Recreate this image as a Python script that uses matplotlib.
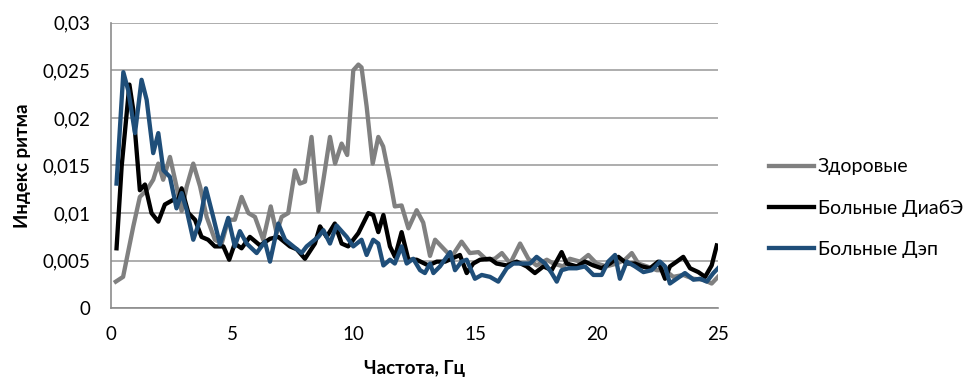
import matplotlib
matplotlib.use("Agg")
import matplotlib.pyplot as plt

plt.rcParams['font.family'] = ['Lato', 'Open Sans', 'DejaVu Sans']

# частота, Гц / индекс ритма
healthy_x = [0.2, 0.5, 0.92, 1.19, 1.47, 1.74, 1.95, 2.15, 2.43, 2.7,
             2.91, 3.12, 3.39, 3.67, 3.94, 4.28, 4.56, 4.83, 5.1, 5.38,
             5.66, 5.93, 6.27, 6.58, 6.82, 7.03, 7.3, 7.58, 7.78, 7.99,
             8.26, 8.54, 8.75, 9.02, 9.23, 9.5, 9.73, 9.98, 10.19, 10.32,
             10.53, 10.78, 11.01, 11.21, 11.49, 11.69, 11.97, 12.25, 12.59, 12.86,
             13.14, 13.35, 13.76, 14.03, 14.44, 14.78, 15.13, 15.47, 15.81, 16.1,
             16.44, 16.85, 17.19, 17.53, 17.95, 18.22, 18.63, 18.9, 19.32, 19.66,
             20.0, 20.41, 20.83, 21.17, 21.45, 21.72, 22.07, 22.48, 22.82, 23.16,
             23.57, 23.99, 24.4, 24.74, 25.0]
healthy_y = [0.0028, 0.0033, 0.0086, 0.0117, 0.0124, 0.0135, 0.0152, 0.0135, 0.0159, 0.0128,
             0.0102, 0.0128, 0.0152, 0.0128, 0.0096, 0.0072, 0.0068, 0.0093, 0.0093, 0.0117,
             0.0100, 0.0096, 0.0072, 0.0107, 0.0079, 0.0096, 0.0100, 0.0145, 0.0131, 0.0133,
             0.0180, 0.0102, 0.0135, 0.0180, 0.0152, 0.0173, 0.0161, 0.0250, 0.0256, 0.0253,
             0.0212, 0.0152, 0.0180, 0.0170, 0.0135, 0.0107, 0.0108, 0.0084, 0.0103, 0.0090,
             0.0055, 0.0072, 0.0061, 0.0054, 0.0070, 0.0058, 0.0059, 0.0051, 0.0052, 0.0058,
             0.0047, 0.0068, 0.0052, 0.0045, 0.0051, 0.0047, 0.0044, 0.0052, 0.0049, 0.0056,
             0.0047, 0.0044, 0.0047, 0.0051, 0.0058, 0.0047, 0.0044, 0.0040, 0.0040, 0.0033,
             0.0035, 0.0031, 0.0030, 0.0026, 0.0033]

diab_x = [0.23, 0.44, 0.76, 0.92, 1.19, 1.4, 1.67, 1.95, 2.22, 2.57,
          2.77, 2.91, 3.19, 3.46, 3.73, 4.0, 4.28, 4.63, 4.87, 5.1,
          5.38, 5.72, 6.14, 6.55, 6.89, 7.37, 7.65, 7.99, 8.4, 8.61,
          8.88, 9.22, 9.5, 9.77, 10.19, 10.6, 10.8, 11.01, 11.22, 11.49,
          11.7, 11.97, 12.25, 12.59, 13.07, 13.42, 13.76, 14.03, 14.37, 14.65,
          14.92, 15.2, 15.61, 15.88, 16.3, 16.71, 17.12, 17.46, 17.81, 18.15,
          18.56, 18.77, 19.18, 19.52, 19.87, 20.21, 20.55, 20.9, 21.24, 21.58,
          21.86, 22.2, 22.54, 22.82, 23.02, 23.3, 23.57, 23.85, 24.19, 24.47,
          24.74, 24.95]
diab_y = [0.0063, 0.0149, 0.0235, 0.0208, 0.0124, 0.0130, 0.0100, 0.0091, 0.0109, 0.0114,
          0.0114, 0.0126, 0.0100, 0.0093, 0.0075, 0.0072, 0.0065, 0.0065, 0.0051, 0.0068,
          0.0063, 0.0075, 0.0066, 0.0073, 0.0075, 0.0065, 0.0062, 0.0052, 0.0068, 0.0086,
          0.0075, 0.0089, 0.0068, 0.0065, 0.0079, 0.0100, 0.0098, 0.0080, 0.0098, 0.0065,
          0.0054, 0.0080, 0.0051, 0.0051, 0.0045, 0.0049, 0.0049, 0.0052, 0.0056, 0.0037,
          0.0047, 0.0051, 0.0052, 0.0047, 0.0045, 0.0049, 0.0044, 0.0037, 0.0044, 0.0040,
          0.0059, 0.0047, 0.0044, 0.0049, 0.0045, 0.0042, 0.0047, 0.0054, 0.0047, 0.0047,
          0.0044, 0.0042, 0.0049, 0.0031, 0.0044, 0.0049, 0.0054, 0.0042, 0.0038, 0.0033,
          0.0045, 0.0066]

dep_x = [0.23, 0.51, 0.71, 0.99, 1.26, 1.47, 1.74, 1.95, 2.16, 2.43,
         2.7, 2.91, 3.12, 3.39, 3.67, 3.91, 4.21, 4.49, 4.83, 5.1,
         5.31, 5.59, 6.0, 6.34, 6.55, 6.89, 7.17, 7.51, 7.85, 8.06,
         8.54, 8.75, 9.02, 9.29, 9.71, 9.98, 10.32, 10.53, 10.8, 11.01,
         11.22, 11.49, 11.69, 11.97, 12.18, 12.45, 12.73, 12.93, 13.14, 13.28,
         13.55, 13.97, 14.17, 14.44, 14.65, 14.99, 15.27, 15.61, 15.95, 16.3,
         16.57, 16.92, 17.26, 17.53, 17.88, 18.15, 18.36, 18.56, 18.84, 19.18,
         19.52, 19.87, 20.21, 20.48, 20.76, 20.96, 21.24, 21.58, 21.93, 22.27,
         22.61, 22.82, 23.02, 23.3, 23.64, 23.99, 24.26, 24.54, 24.81, 25.0]
dep_y = [0.0131, 0.0248, 0.0229, 0.0184, 0.0240, 0.0219, 0.0163, 0.0184, 0.0145, 0.0138,
         0.0105, 0.0121, 0.0103, 0.0072, 0.0093, 0.0126, 0.0096, 0.0067, 0.0095, 0.0065,
         0.0081, 0.0068, 0.0058, 0.0070, 0.0049, 0.0089, 0.0072, 0.0065, 0.0058, 0.0065,
         0.0075, 0.0082, 0.0068, 0.0087, 0.0075, 0.0065, 0.0072, 0.0056, 0.0072, 0.0068,
         0.0045, 0.0051, 0.0047, 0.0065, 0.0047, 0.0052, 0.0040, 0.0037, 0.0047, 0.0037,
         0.0044, 0.0059, 0.0040, 0.0049, 0.0051, 0.0031, 0.0035, 0.0033, 0.0028, 0.0042,
         0.0047, 0.0047, 0.0047, 0.0054, 0.0047, 0.0037, 0.0028, 0.0040, 0.0042, 0.0042,
         0.0044, 0.0035, 0.0035, 0.0049, 0.0056, 0.0031, 0.0049, 0.0044, 0.0038, 0.0040,
         0.0049, 0.0044, 0.0026, 0.0031, 0.0037, 0.0030, 0.0031, 0.0028, 0.0037, 0.0042]

y_ticks = [0, 0.005, 0.01, 0.015, 0.02, 0.025, 0.03]
y_tick_labels = ['0', '0,005', '0,01', '0,015', '0,02', '0,025', '0,03']
x_ticks = [0, 5, 10, 15, 20, 25]

fig = plt.figure(figsize=(9.64, 3.82), dpi=100)
ax = fig.add_axes([0.1151, 0.193, 0.6297, 0.7476])

lw = 3.1
ax.plot(healthy_x, healthy_y, color='#808080', lw=lw, solid_joinstyle='round', label='Здоровые')
ax.plot(diab_x, diab_y, color='#000000', lw=lw, solid_joinstyle='round', label='Больные ДиабЭ')
ax.plot(dep_x, dep_y, color='#1F4E79', lw=lw, solid_joinstyle='round', label='Больные Дэп')

ax.set_xlim(0, 25)
ax.set_ylim(0, 0.03)
ax.set_xticks(x_ticks)
ax.set_xticklabels([str(t) for t in x_ticks])
ax.set_yticks(y_ticks)
ax.set_yticklabels(y_tick_labels)
ax.tick_params(axis='both', length=0, labelsize=13.5)
ax.tick_params(axis='y', pad=15)
ax.tick_params(axis='x', pad=13)

ax.grid(axis='y', color='#A0A0A0', lw=1.2)
ax.set_axisbelow(True)
for s in ['top', 'right']:
    ax.spines[s].set_visible(False)
for s in ['left', 'bottom']:
    ax.spines[s].set_color('#8C8C8C')
    ax.spines[s].set_linewidth(1.2)

ax.set_xlabel('Частота, Гц', fontsize=13.5, fontweight='bold', labelpad=12)
ax.set_ylabel('Индекс ритма', fontsize=13.5, fontweight='bold', labelpad=8)

ax.legend(loc='center left', bbox_to_anchor=(0.79, 0.455), bbox_transform=fig.transFigure,
          frameon=False, fontsize=14, handlelength=2.3, handletextpad=0.2, labelspacing=1.25,
          borderaxespad=0)

fig.savefig('out.png', dpi=100)
